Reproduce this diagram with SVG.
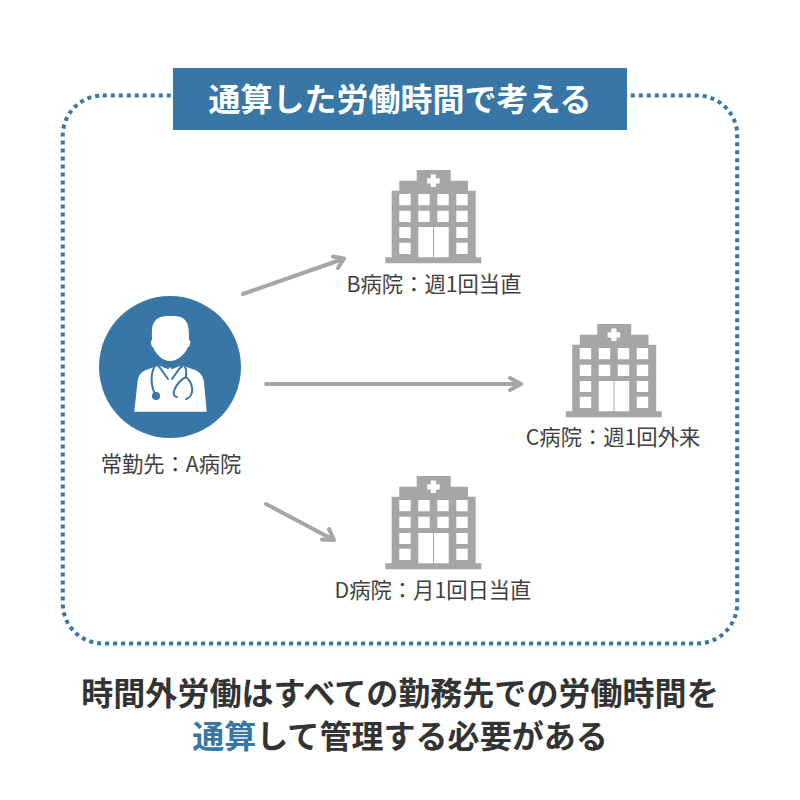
<svg xmlns="http://www.w3.org/2000/svg" width="800" height="800" viewBox="0 0 800 800">
<style>
text{font-family:"Noto Sans CJK JP","Noto Sans",sans-serif;text-anchor:middle}
.lab{font-size:21.300px;fill:#404040}
.big{font-size:32.050px;font-weight:700;fill:#333}
.ttl{font-size:32px;font-weight:700;fill:#fff}
.arr{fill:none;stroke:#a6a6a6;stroke-width:4;stroke-linecap:round;stroke-linejoin:round}
.b{fill:#a6a6a6}
.w{fill:#fff}
.t{fill:none;stroke:#3776a5;stroke-width:2;stroke-linecap:round}
</style>
<defs>
<g id="hospital">
<path class="b" d="M416.700 170H450.700V180.700H468V190.700H475.700V257.300H481.300V263.300H385.300V257.300H391.700V190.700H399.300V180.700H416.700Z"/>
<path class="w" d="M430.800 174.500h5.200v3.700h3.700v5.200h-3.700v3.700h-5.200v-3.700h-3.700v-5.200h3.700Z"/>
<path class="w" d="M399.300 194h11.400v11.300h-11.400zM418.300 194h11.400v11.300h-11.400zM437.300 194h11.400v11.300h-11.400zM456.300 194h11.400v11.300h-11.400zM399.300 210.700h11.400V222h-11.400zM418.300 210.700h11.400V222h-11.400zM437.300 210.700h11.400V222h-11.400zM456.300 210.700h11.400V222h-11.400zM399.300 227h11.400v11h-11.400zM456.300 227h11.400v11h-11.400zM399.300 242.700h11.400V254h-11.400zM456.300 242.700h11.400V254h-11.400zM418.300 227H433v30.300h-14.700zM434 227h14.700v30.300H434z"/>
</g>
</defs>
<g id="frame">
<rect x="62.800" y="95.500" width="674.400" height="548" rx="40" fill="none" stroke="#3776a5" stroke-width="4" stroke-dasharray="4 4"/>
</g>
<g id="title">
<rect x="173" y="68" width="454" height="62" fill="#3776a5"/>
<text class="ttl" x="400" y="110.500">通算した労働時間で考える</text>
</g>
<g id="connectors">
<path class="arr" d="M243 294L343 259M333 256.500L344 258.500L338 268"/>
<path class="arr" d="M266 384H520M510 378L521 384L510 390"/>
<path class="arr" d="M266 504L333 539.500M322 539.500L334 540L329 529"/>
</g>
<g id="node-a">
<circle cx="170" cy="367" r="71" fill="#3776a5"/>
<path class="w" d="M169 316C176 316 182 316 185 320C189 324 189 331 189 340C190 340 191 342 190 344C190 346 189 347 188 347C186 353 178 361 170 361C162 361 155 353 153 347C152 347 151 345 151 343C151 341 151 340 152 340C152 332 151 326 155 321C158 317 163 316 169 316Z"/>
<path class="w" d="M134.300 411.700L137.500 382C138 376 141 372 146 370L157 366L170 378L184 366L195 370C200 372 203 376 204 382L206.700 411.700Z"/>
<path d="M158 365L167 377L173 377L182 365L170 370Z" class="w"/>
<path d="M170 367l3 4l-1.500 2l2 12l-3.500 5l-3.500-5l2-12l-1.500-2Z" class="w"/>
<path class="t" d="M158 365L168 379M182 365L172 379"/>
<path class="t" d="M155 366C151 372 150 384 155 394"/>
<circle cx="156" cy="396" r="4" fill="#3776a5"/>
<path class="t" d="M185 367C187 370 186 374 186 377C181 379 176 385 174 391C173 394 174 397 177 397M186 377C190 380 193 386 192 392C191 396 190 398 186 399"/>
<text class="lab" x="171" y="472">常勤先：A病院</text>
</g>
<g id="node-b">
<use href="#hospital"/>
<text class="lab" x="434" y="292">B病院：週1回当直</text>
</g>
<g id="node-c">
<use href="#hospital" x="180.500" y="154"/>
<text class="lab" x="613" y="445">C病院：週1回外来</text>
</g>
<g id="node-d">
<use href="#hospital" y="306"/>
<text class="lab" x="433" y="598">D病院：月1回日当直</text>
</g>
<g id="caption">
<text class="big" x="400" y="705">時間外労働はすべての勤務先での労働時間を</text>
<text class="big" x="400" y="748"><tspan fill="#3776a5">通算</tspan>して管理する必要がある</text>
</g>
</svg>
